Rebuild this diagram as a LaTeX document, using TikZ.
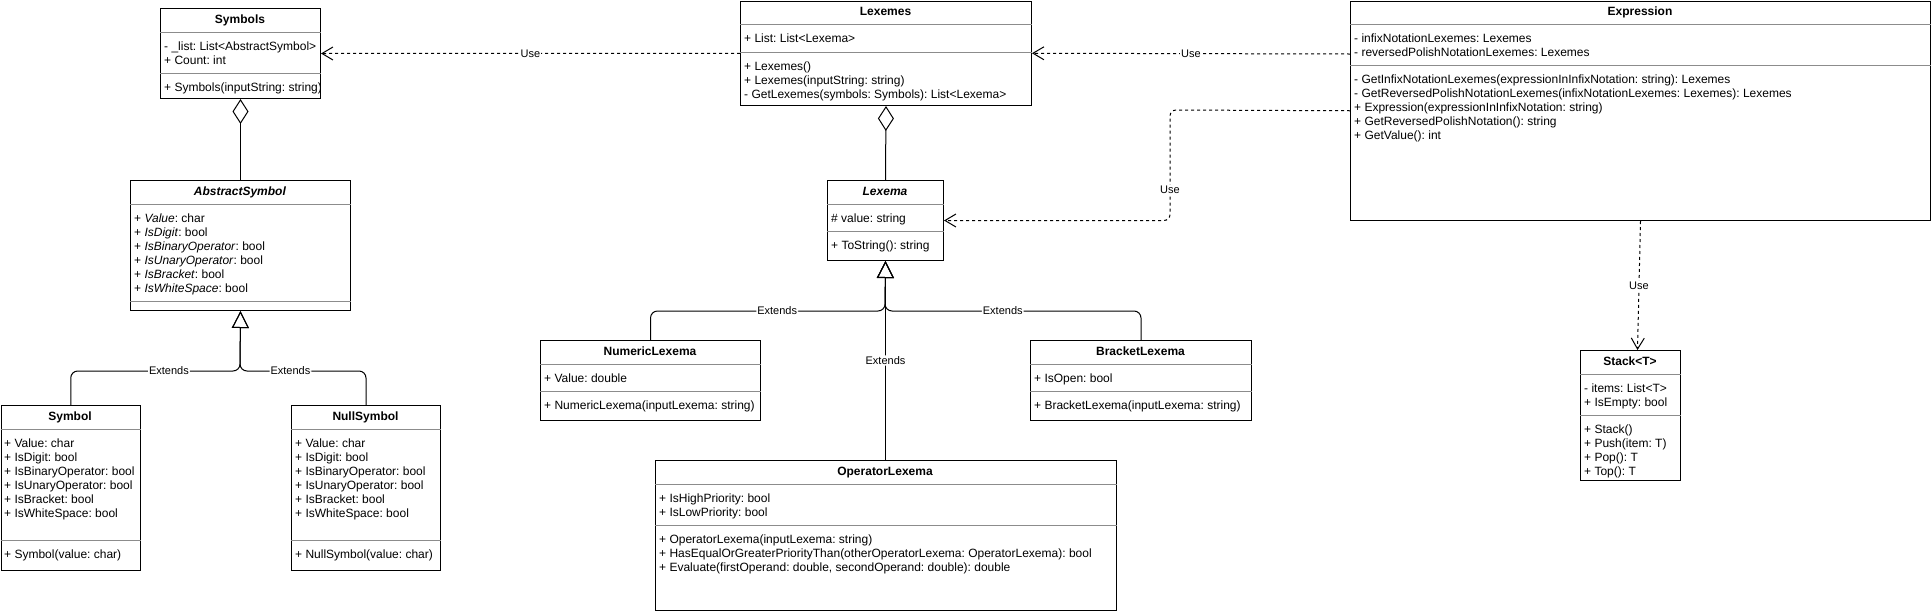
\documentclass[tikz,border=0pt]{standalone}
\usepackage{fontspec}
\setmainfont{Liberation Sans}
\usepackage{tikz}
\usetikzlibrary{arrows.meta, positioning}
\definecolor{divgray}{RGB}{140,140,140}
\tikzstyle{umlclass} = [rectangle, draw=black, line width=1pt, anchor=north west, inner sep=0pt]
\tikzstyle{classtitle} = [anchor=base, inner sep=0pt, font=\bfseries\fontsize{12}{14}\selectfont]
\tikzstyle{member} = [anchor=base west, inner sep=0pt, font=\fontsize{12}{14}\selectfont]
\tikzstyle{divider} = [draw=divgray, line width=1pt]
\tikzstyle{edgelabel} = [fill=white, inner sep=1pt, font=\fontsize{11}{13}\selectfont]
\tikzstyle{aggr} = [line width=1pt, {Diamond[open, length=25pt, width=16pt]}-]
\tikzstyle{inherit} = [line width=1pt, rounded corners=7pt, -{Triangle[open, length=17pt, width=17pt]}]
\tikzstyle{usedep} = [line width=1pt, dash pattern=on 3pt off 3pt, -{Straight Barb[length=11pt, width=13pt]}]
\newcommand{\memberrows}[1]{\begin{tabular}[t]{@{}l@{}}#1\end{tabular}}
\frenchspacing

\begin{document}
\begin{tikzpicture}[x=1pt, y=-1pt]
    \path[use as bounding box, fill=white] (0,0) rectangle (1931,611);

    % Symbols
    \node[umlclass, minimum width=160pt, minimum height=90pt] (symbols) at (160,8) {};
    \node[classtitle] (symbols-title) at (240,23.5) {Symbols};
    \draw[divider] (symbols.west |- 0,32) -- (symbols.east |- 0,32);
    \node[member] (symbols-attr) at (164,50.5) {\memberrows{- \_list: List<AbstractSymbol>\\+ Count: int}};
    \draw[divider] (symbols.west |- 0,73) -- (symbols.east |- 0,73);
    \node[member] (symbols-ops) at (164,91.5) {\memberrows{+ Symbols(inputString: string)}};

    % AbstractSymbol
    \node[umlclass, minimum width=220pt, minimum height=130pt] (abstractsymbol) at (130,180) {};
    \node[classtitle] (abstractsymbol-title) at (240,195.5) {\textit{AbstractSymbol}};
    \draw[divider] (abstractsymbol.west |- 0,204) -- (abstractsymbol.east |- 0,204);
    \node[member] (abstractsymbol-attr) at (134,222.5) {\memberrows{
        + \textit{Value}: char\\
        + \textit{IsDigit}: bool\\
        + \textit{IsBinaryOperator}: bool\\
        + \textit{IsUnaryOperator}: bool\\
        + \textit{IsBracket}: bool\\
        + \textit{IsWhiteSpace}: bool}};
    \draw[divider] (abstractsymbol.west |- 0,301) -- (abstractsymbol.east |- 0,301);

    % Symbol
    \node[umlclass, minimum width=139.5pt, minimum height=165pt] (symbol) at (0.5,405) {};
    \node[classtitle] (symbol-title) at (70,420.5) {Symbol};
    \draw[divider] (symbol.west |- 0,429) -- (symbol.east |- 0,429);
    \node[member] (symbol-attr) at (4,447.5) {\memberrows{
        + Value: char\\
        + IsDigit: bool\\
        + IsBinaryOperator: bool\\
        + IsUnaryOperator: bool\\
        + IsBracket: bool\\
        + IsWhiteSpace: bool}};
    \draw[divider] (symbol.west |- 0,540) -- (symbol.east |- 0,540);
    \node[member] (symbol-ops) at (4,558.5) {\memberrows{+ Symbol(value: char)}};

    % NullSymbol
    \node[umlclass, minimum width=149pt, minimum height=165pt] (nullsymbol) at (291,405) {};
    \node[classtitle] (nullsymbol-title) at (365.5,420.5) {NullSymbol};
    \draw[divider] (nullsymbol.west |- 0,429) -- (nullsymbol.east |- 0,429);
    \node[member] (nullsymbol-attr) at (295,447.5) {\memberrows{
        + Value: char\\
        + IsDigit: bool\\
        + IsBinaryOperator: bool\\
        + IsUnaryOperator: bool\\
        + IsBracket: bool\\
        + IsWhiteSpace: bool}};
    \draw[divider] (nullsymbol.west |- 0,540) -- (nullsymbol.east |- 0,540);
    \node[member] (nullsymbol-ops) at (295,558.5) {\memberrows{+ NullSymbol(value: char)}};

    % Lexemes
    \node[umlclass, minimum width=291pt, minimum height=104.5pt] (lexemes) at (740,0.5) {};
    \node[classtitle] (lexemes-title) at (885.5,15.5) {Lexemes};
    \draw[divider] (lexemes.west |- 0,24) -- (lexemes.east |- 0,24);
    \node[member] (lexemes-attr) at (744,42.5) {\memberrows{+ List: List<Lexema>}};
    \draw[divider] (lexemes.west |- 0,52) -- (lexemes.east |- 0,52);
    \node[member] (lexemes-ops) at (744,70.5) {\memberrows{
        + Lexemes()\\
        + Lexemes(inputString: string)\\
        - GetLexemes(symbols: Symbols): List<Lexema>}};

    % Lexema
    \node[umlclass, minimum width=116pt, minimum height=80pt] (lexema) at (827,180) {};
    \node[classtitle] (lexema-title) at (885,195.5) {\textit{Lexema}};
    \draw[divider] (lexema.west |- 0,204) -- (lexema.east |- 0,204);
    \node[member] (lexema-attr) at (831,222.5) {\memberrows{\# value: string}};
    \draw[divider] (lexema.west |- 0,231) -- (lexema.east |- 0,231);
    \node[member] (lexema-ops) at (831,249.5) {\memberrows{+ ToString(): string}};

    % NumericLexema
    \node[umlclass, minimum width=220pt, minimum height=80pt] (numericlexema) at (540,340) {};
    \node[classtitle] (numericlexema-title) at (650,355.5) {NumericLexema};
    \draw[divider] (numericlexema.west |- 0,364) -- (numericlexema.east |- 0,364);
    \node[member] (numericlexema-attr) at (544,382.5) {\memberrows{+ Value: double}};
    \draw[divider] (numericlexema.west |- 0,391) -- (numericlexema.east |- 0,391);
    \node[member] (numericlexema-ops) at (544,409.5) {\memberrows{+ NumericLexema(inputLexema: string)}};

    % BracketLexema
    \node[umlclass, minimum width=221pt, minimum height=80pt] (bracketlexema) at (1030,340) {};
    \node[classtitle] (bracketlexema-title) at (1140.5,355.5) {BracketLexema};
    \draw[divider] (bracketlexema.west |- 0,364) -- (bracketlexema.east |- 0,364);
    \node[member] (bracketlexema-attr) at (1034,382.5) {\memberrows{+ IsOpen: bool}};
    \draw[divider] (bracketlexema.west |- 0,391) -- (bracketlexema.east |- 0,391);
    \node[member] (bracketlexema-ops) at (1034,409.5) {\memberrows{+ BracketLexema(inputLexema: string)}};

    % OperatorLexema
    \node[umlclass, minimum width=461pt, minimum height=150pt] (operatorlexema) at (654.5,460) {};
    \node[classtitle] (operatorlexema-title) at (885,475.5) {OperatorLexema};
    \draw[divider] (operatorlexema.west |- 0,484) -- (operatorlexema.east |- 0,484);
    \node[member] (operatorlexema-attr) at (659,502.5) {\memberrows{
        + IsHighPriority: bool\\
        + IsLowPriority: bool}};
    \draw[divider] (operatorlexema.west |- 0,525) -- (operatorlexema.east |- 0,525);
    \node[member] (operatorlexema-ops) at (659,543.5) {\memberrows{
        + OperatorLexema(inputLexema: string)\\
        + HasEqualOrGreaterPriorityThan(otherOperatorLexema: OperatorLexema): bool\\
        + Evaluate(firstOperand: double, secondOperand: double): double}};

    % Expression
    \node[umlclass, minimum width=580pt, minimum height=219.5pt] (expression) at (1350,0.5) {};
    \node[classtitle] (expression-title) at (1640,15.5) {Expression};
    \draw[divider] (expression.west |- 0,24) -- (expression.east |- 0,24);
    \node[member] (expression-attr) at (1354,42.5) {\memberrows{
        - infixNotationLexemes: Lexemes\\
        - reversedPolishNotationLexemes: Lexemes}};
    \draw[divider] (expression.west |- 0,65) -- (expression.east |- 0,65);
    \node[member] (expression-ops) at (1354,83.5) {\memberrows{
        - GetInfixNotationLexemes(expressionInInfixNotation: string): Lexemes\\
        - GetReversedPolishNotationLexemes(infixNotationLexemes: Lexemes): Lexemes\\
        + Expression(expressionInInfixNotation: string)\\
        + GetReversedPolishNotation(): string\\
        + GetValue(): int}};

    % Stack<T>
    \node[umlclass, minimum width=100pt, minimum height=130pt] (stack) at (1580,350) {};
    \node[classtitle] (stack-title) at (1630,365.5) {Stack<T>};
    \draw[divider] (stack.west |- 0,374) -- (stack.east |- 0,374);
    \node[member] (stack-attr) at (1584,392.5) {\memberrows{
        - items: List<T>\\
        + IsEmpty: bool}};
    \draw[divider] (stack.west |- 0,415) -- (stack.east |- 0,415);
    \node[member] (stack-ops) at (1584,433.5) {\memberrows{
        + Stack()\\
        + Push(item: T)\\
        + Pop(): T\\
        + Top(): T}};

    % Aggregation
    \draw[aggr] (symbols.south) -- (abstractsymbol.north);
    \draw[aggr] (lexemes.south) -- (lexema.north);

    % Inheritance
    \coordinate (symjoin) at (240,371);
    \coordinate (lexjoin) at (885,311);
    \draw[inherit] (symbol.north) |- node[edgelabel, pos=0.79] {Extends} (symjoin) -- (abstractsymbol.south);
    \draw[inherit] (nullsymbol.north) |- node[edgelabel, pos=0.8] {Extends} (symjoin) -- (abstractsymbol.south);
    \draw[inherit] (numericlexema.north) |- node[edgelabel, pos=0.77] {Extends} (lexjoin) -- (lexema.south);
    \draw[inherit] (bracketlexema.north) |- node[edgelabel, pos=0.77] {Extends} (lexjoin) -- (lexema.south);
    \draw[inherit] (operatorlexema.north) -- node[edgelabel] {Extends} (lexema.south);

    % Dependencies
    \coordinate (usebend) at (1170,110);
    \draw[usedep] (lexemes.west) -- node[edgelabel] {Use} (symbols.east);
    \draw[usedep] (expression.west |- 0,54) -- node[edgelabel] {Use} (lexemes.east);
    \draw[usedep, rounded corners=6pt] (expression.west) -- (usebend) |- node[edgelabel, pos=0.36] {Use} (lexema.east);
    \draw[usedep] (expression.south) -- node[edgelabel] {Use} ([xshift=7pt]stack.north);
\end{tikzpicture}
\end{document}
